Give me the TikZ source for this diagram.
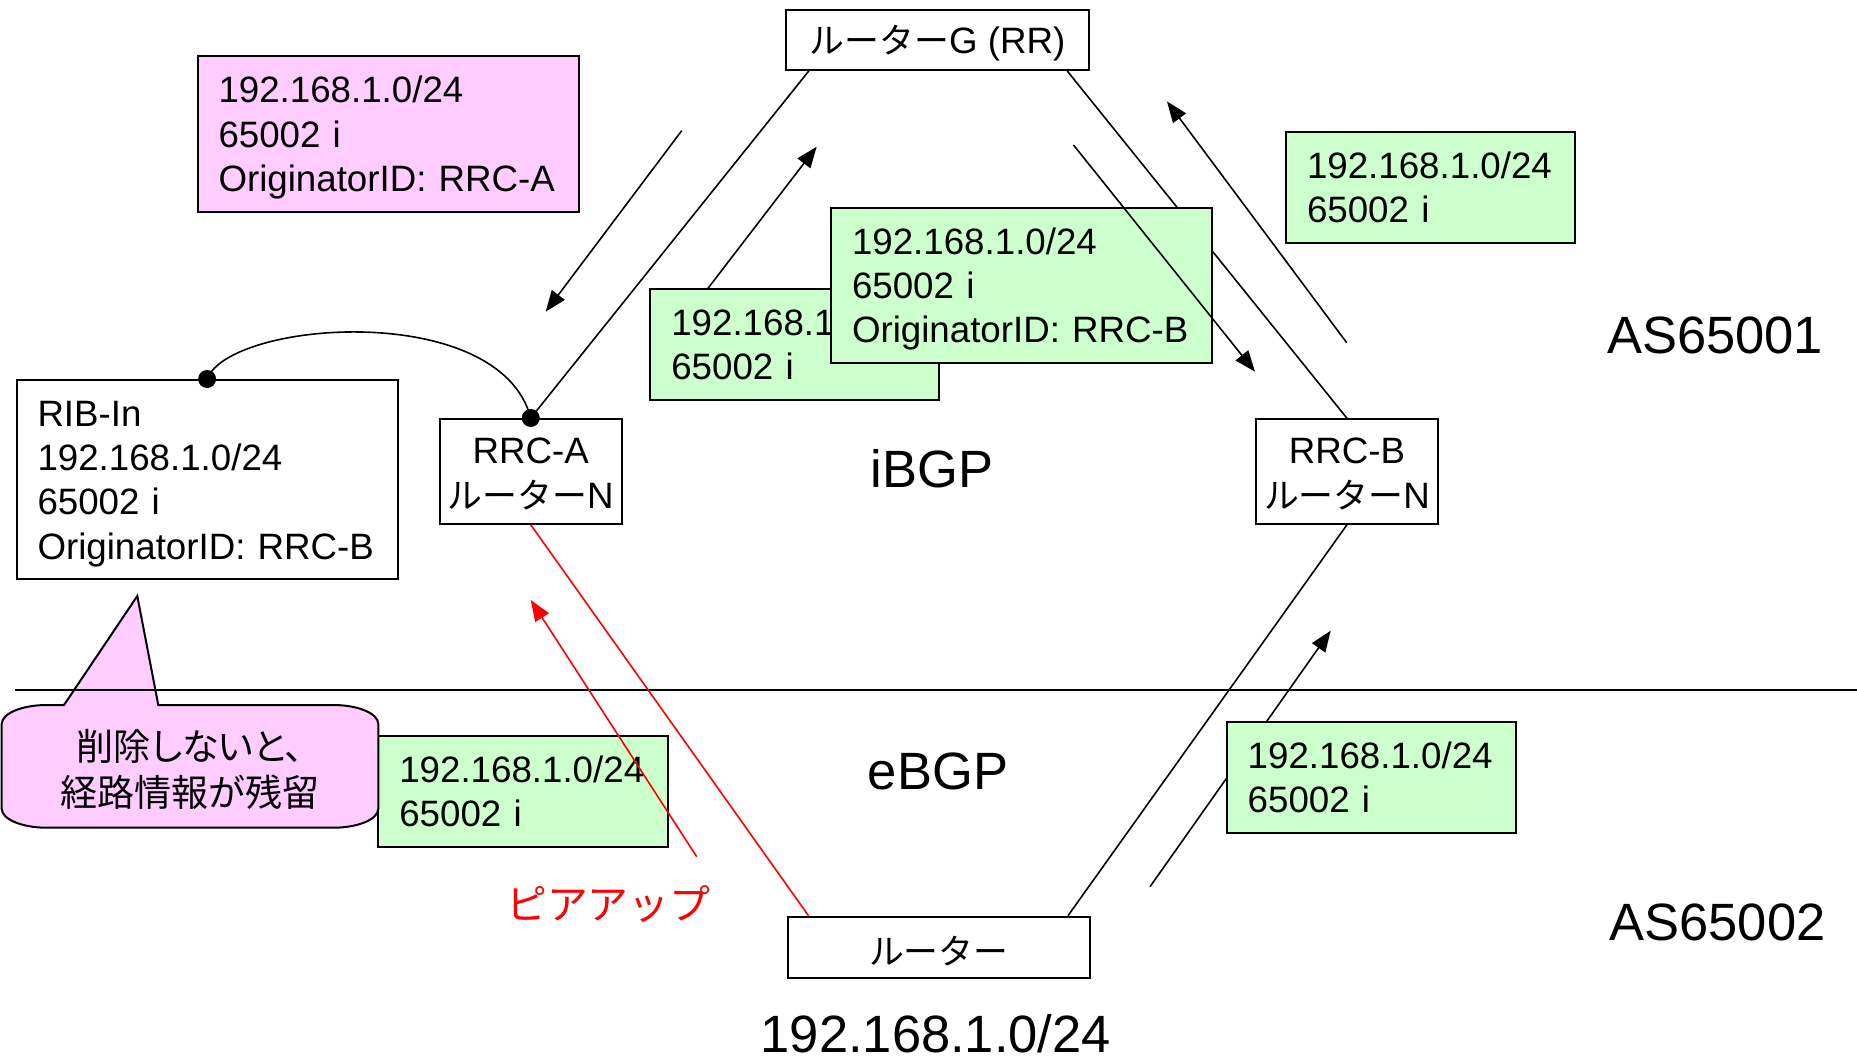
\documentclass[tikz,border=0pt]{standalone}
\usepackage{fontspec}
\setmainfont{Liberation Sans}
\newfontfamily\jp[Scale=0.95]{Noto Sans CJK JP}
\newfontfamily\jpprop[Scale=0.95,RawFeature=+palt]{Noto Sans CJK JP}
\usetikzlibrary{arrows.meta}
\definecolor{pinkfill}{HTML}{FFCCFF}
\definecolor{greenfill}{HTML}{CCFFCC}
% lower a piece of text without changing the space it claims
\newcommand\sinktext[2]{\raisebox{-#1}[\height][\depth]{#2}}
\begin{document}
\begin{tikzpicture}[x=1pt,y=-1pt,
  every node/.style={font=\fontsize{36.7}{44.4}\selectfont},
  boxframe/.style={draw, line width=2pt, inner sep=0pt},
  infobox/.style={boxframe, anchor=north west, align=left, inner xsep=21pt, inner ysep=0pt},
  tallbox/.style={text height=34.4pt},
  routerbox/.style={boxframe, fill=white, align=center},
  link/.style={line width=1.6pt},
  flow/.style={line width=1.6pt, -{Triangle[length=21pt,width=16pt]}},
  peer/.style={line width=1.6pt, red},
  dot/.style={circle, fill, inner sep=0pt, minimum size=18pt},
  big/.style={font=\fontsize{52.5}{60}\selectfont}
]
\useasboundingbox (0,0) rectangle (1857,1061);

% arrow end points
\coordinate (a1s) at (681.7,130.7);  \coordinate (a1e) at (545.7,311.7);
\coordinate (a2s) at (699,300);      \coordinate (a2e) at (816.7,146.7);
\coordinate (a3s) at (1073.5,145);   \coordinate (a3e) at (1255,371.7);
\coordinate (a4s) at (1346.7,342.7); \coordinate (a4e) at (1167,101.4);
\coordinate (a5s) at (1150,886.7);   \coordinate (a5e) at (1330.7,630.7);
\coordinate (a6s) at (696.7,856.7);  \coordinate (a6e) at (530.7,600);
\coordinate (hl) at (15,690);        \coordinate (hr) at (1857,690);

% routers
\node[routerbox, minimum width=303.5pt, minimum height=60pt] (rg) at (937.5,40) {\sinktext{3.5pt}{{\jp ルーター}G (RR)}};
\node[routerbox, minimum width=302.5pt, minimum height=61pt] (rt) at (938.75,947.2) {\sinktext{3.5pt}{\jp ルーター}};
\node[routerbox, minimum width=182.5pt, minimum height=104.7pt] (rrcA) at (530.75,471.35) {\sinktext{2.4pt}{RRC-A}\\\sinktext{2.4pt}{{\jp ルーター}N}};
\node[routerbox, minimum width=182.6pt, minimum height=104.4pt] (rrcB) at (1347,471.5) {\sinktext{2.4pt}{RRC-B}\\\sinktext{2.4pt}{{\jp ルーター}N}};

% links and updates that pass behind the route boxes
\draw[link] ([xshift=-23pt]rg.south east) -- (rrcB.north);
\draw[flow] (a2s) -- (a2e);
\draw[flow] (a5s) -- (a5e);

% route information boxes
\node[infobox, fill=greenfill, text width=247pt, minimum height=110.7pt] (gback) at (649.3,288.3) {192.168.1.0/24\\65002 i};
\node[infobox, tallbox, fill=greenfill, text width=338.7pt, minimum height=154.8pt] (gmid) at (830,206.7) {192.168.1.0/24\\65002 i\\OriginatorID: RRC-B};
\node[infobox, tallbox, fill=pinkfill, text width=339pt, minimum height=155.7pt] (pinkbox) at (196.5,55) {192.168.1.0/24\\65002 i\\OriginatorID: RRC-A};
\node[infobox, fill=greenfill, text width=247pt, minimum height=110.7pt] (gtr) at (1285,131) {192.168.1.0/24\\65002 i};
\node[infobox, tallbox, fill=white, text width=339.2pt, minimum height=198.7pt] (rib) at (15.5,379) {RIB-In\\192.168.1.0/24\\65002 i\\OriginatorID: RRC-B};
\node[infobox, fill=greenfill, text width=247.4pt, minimum height=111pt] (gbl) at (377.3,735) {192.168.1.0/24\\65002 i};
\node[infobox, fill=greenfill, text width=247.3pt, minimum height=111pt] (gbr) at (1225.7,720.7) {192.168.1.0/24\\65002 i};

% callout
\draw[line width=2pt, fill=pinkfill]
  (64,705) -- (137.3,596) -- (158.3,705) -- (333.3,705)
  .. controls (358.2,705) and (378.3,713.5) .. (378.3,724)
  -- (378.3,808.7)
  .. controls (378.3,819.2) and (358.2,827.7) .. (333.3,827.7)
  -- (46.7,827.7)
  .. controls (21.8,827.7) and (1.7,819.2) .. (1.7,808.7)
  -- (1.7,724)
  .. controls (1.7,713.5) and (21.8,705) .. (46.7,705) -- cycle;
\node[align=center, font=\fontsize{39}{46}\jpprop] (note) at (190,769) {削除しないと、\\経路情報が残留};

% AS boundary
\draw[line width=1.7pt] (hl) -- (hr);

% iBGP / eBGP sessions and updates
\draw[link] ([xshift=24pt]rg.south west) -- (rrcA.north);
\draw[link] ([xshift=-23pt]rt.north east) -- (rrcB.south);
\draw[flow] (a1s) -- (a1e);
\draw[flow] (a3s) -- (a3e);
\draw[flow] (a4s) -- (a4e);
\draw[peer] ([xshift=22pt]rt.north west) -- (rrcA.south);
\draw[peer, -{Triangle[length=21pt,width=16pt]}] (a6s) -- (a6e);

% RIB-In reference
\draw[line width=1.6pt] (rib.north) .. controls (230,320) and (500,300) .. (rrcA.north);
\node[dot] (d1) at (rib.north) {};
\node[dot] (d2) at (rrcA.north) {};

% labels
\node[big, anchor=base] (as1) at (1715,353) {AS65001};
\node[big, anchor=base] (as2) at (1717.5,940) {AS65002};
\node[big, anchor=base] (ibgp) at (932,487) {iBGP};
\node[big, anchor=base] (ebgp) at (938,789) {eBGP};
\node[big, anchor=base] (net) at (935.8,1052) {192.168.1.0/24};
\node[text=red, font=\fontsize{43}{50}\jp] (peerup) at (608.3,904.5) {ピアアップ};
\end{tikzpicture}
\end{document}
